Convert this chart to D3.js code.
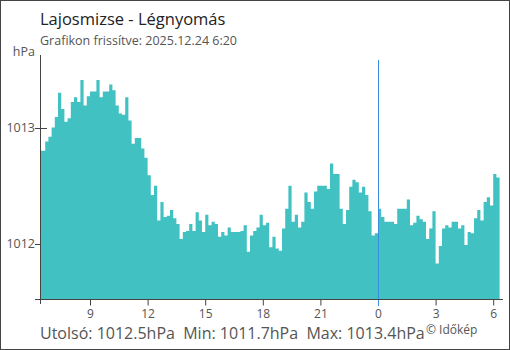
<!DOCTYPE html>
<html>
<head>
<meta charset="utf-8">
<script src="https://cdn.jsdelivr.net/npm/d3@7"></script>
<style>
  body { margin: 0; background: #fff; }
  svg { display: block; font-family: "Open Sans", "Noto Sans", sans-serif; }
</style>
</head>
<body>
<div id="chart"></div>
<script>
// légnyomás adatok, 10 perces lépés, 2025.12.23 6:30 -> 2025.12.24 6:20
const startTime = new Date(2025, 11, 23, 6, 20)
const endTime = new Date(2025, 11, 24, 6, 20)
const stepMinutes = 10
const pressure = [
  1012.80, 1012.80, 1012.88, 1012.92, 1013.00, 1013.09, 1013.30, 1013.16, 1013.05, 1013.08,
  1013.22, 1013.26, 1013.22, 1013.41, 1013.19, 1013.27, 1013.31, 1013.31, 1013.41, 1013.26,
  1013.31, 1013.31, 1013.37, 1013.32, 1013.19, 1013.12, 1013.11, 1013.26, 1013.06, 1012.86,
  1012.91, 1012.91, 1012.82, 1012.74, 1012.59, 1012.42, 1012.50, 1012.20, 1012.36, 1012.23,
  1012.24, 1012.29, 1012.22, 1012.17, 1012.04, 1012.10, 1012.11, 1012.17, 1012.11, 1012.27,
  1012.20, 1012.10, 1012.25, 1012.16, 1012.19, 1012.17, 1012.06, 1012.10, 1012.07, 1012.14,
  1012.10, 1012.10, 1012.10, 1012.11, 1012.16, 1011.93, 1012.07, 1012.11, 1012.14, 1012.25,
  1012.16, 1012.18, 1011.97, 1012.06, 1011.96, 1011.94, 1012.13, 1012.30, 1012.50, 1012.19,
  1012.25, 1012.14, 1012.19, 1012.44, 1012.36, 1012.30, 1012.45, 1012.50, 1012.50, 1012.50,
  1012.47, 1012.69, 1012.60, 1012.60, 1012.30, 1012.17, 1012.29, 1012.49, 1012.55, 1012.53,
  1012.44, 1012.49, 1012.42, 1012.28, 1012.07, 1012.09, 1012.30, 1012.23, 1012.19, 1012.19,
  1012.19, 1012.17, 1012.30, 1012.30, 1012.30, 1012.38, 1012.16, 1012.18, 1012.24, 1012.21,
  1012.19, 1012.04, 1012.13, 1012.28, 1011.83, 1011.98, 1012.13, 1012.16, 1012.14, 1012.19,
  1012.19, 1012.13, 1012.16, 1011.99, 1012.10, 1012.09, 1012.22, 1012.29, 1012.20, 1012.36,
  1012.40, 1012.33, 1012.60, 1012.57
]
const yTicks = [1012, 1013]
const yDomain = [1011.52, 1013.62]
const title = "Lajosmizse - Légnyomás"
const subtitle = "Grafikon frissítve: 2025.12.24 6:20"
const unit = "hPa"
const footer = "Utolsó: 1012.5hPa  Min: 1011.7hPa  Max: 1013.4hPa"
const credit = "© Időkép"

const W = 510, H = 350
const left = 40.5, bottom = 299.5
const svg = d3.select("#chart").append("svg").attr("width", W).attr("height", H)

const x = d3.scaleTime().domain([startTime, endTime]).range([38.8, 499.6])
const y = d3.scaleLinear().domain(yDomain).range([bottom, 55.5])

// minden érték a saját 10 perces intervallumát tölti ki (t-10p .. t)
const steps = pressure.map((v, i) => ({
  t: d3.timeMinute.offset(startTime, i * stepMinutes),
  v: v
}))
steps.push({ t: endTime, v: pressure[pressure.length - 1] })

// keret
svg.append("rect").attr("x", 0.5).attr("y", 0.5).attr("width", W - 1).attr("height", H - 1)
   .attr("fill", "none").attr("stroke", "#444")

// fejléc
svg.append("text").attr("x", 40).attr("y", 25).attr("font-size", 16.5).attr("fill", "#222").text(title)
svg.append("text").attr("x", 40).attr("y", 45).attr("font-size", 12.5).attr("fill", "#555").text(subtitle)
svg.append("text").attr("x", 35).attr("y", 56).attr("text-anchor", "end").attr("font-size", 12.5).attr("fill", "#555").text(unit)

// y tick vonalak a kitöltés alatt
svg.selectAll(".ytick").data(yTicks).join("line")
   .attr("x1", 35).attr("x2", 47)
   .attr("y1", d => Math.round(y(d)) + 0.5).attr("y2", d => Math.round(y(d)) + 0.5)
   .attr("stroke", "#444")
svg.selectAll(".ylab").data(yTicks).join("text")
   .attr("x", 35).attr("y", d => y(d) + 4.5)
   .attr("text-anchor", "end").attr("font-size", 12.5).attr("fill", "#555")
   .text(d => d)

svg.append("clipPath").attr("id", "plot")
   .append("rect").attr("x", left).attr("y", 0).attr("width", 500 - left).attr("height", bottom)

const area = d3.area()
   .x(d => x(d.t))
   .y0(bottom)
   .y1(d => y(d.v))
   .curve(d3.curveStepAfter)

svg.append("path").datum(steps)
   .attr("clip-path", "url(#plot)")
   .attr("d", area)
   .attr("fill", "#41c1c2")

// éjfél jelölő
const midnight = new Date(2025, 11, 24, 0, 0)
svg.append("line").attr("x1", Math.round(x(midnight)) + 0.5).attr("x2", Math.round(x(midnight)) + 0.5)
   .attr("y1", 60).attr("y2", 306).attr("stroke", "#3a8ee0")

// x tengely
const xAxis = d3.axisBottom(x).ticks(d3.timeHour.every(3)).tickFormat(d3.timeFormat("%-H"))
   .tickSize(6).tickPadding(4)
const gx = svg.append("g").attr("transform", `translate(0,${bottom})`).call(xAxis)
gx.select(".domain").remove()
gx.append("line").attr("x1", 35).attr("x2", 503).attr("stroke", "#444")
gx.selectAll(".tick line").attr("stroke", "#444")
gx.selectAll(".tick text").attr("font-size", 12).attr("fill", "#555").attr("font-family", "Open Sans")
gx.selectAll(".tick").filter(d => +d === +midnight).select("line").attr("stroke", "#3a8ee0")

// y tengely vonal
svg.append("line").attr("x1", left).attr("x2", left).attr("y1", 55).attr("y2", 304).attr("stroke", "#444")

// lábléc
svg.append("text").attr("x", 40).attr("y", 339).attr("font-size", 16).attr("fill", "#555")
   .style("white-space", "pre").text(footer)
svg.append("text").attr("x", 426).attr("y", 334).attr("font-size", 12).attr("fill", "#555").text(credit)
</script>
</body>
</html>
